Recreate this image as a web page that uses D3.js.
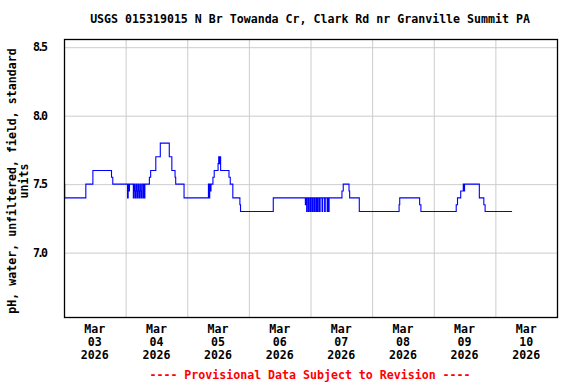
<!DOCTYPE html>
<html>
<head>
<meta charset="utf-8">
<script src="https://cdn.jsdelivr.net/npm/d3@7"></script>
<style>
  body { margin: 0; background: #fff; }
  text { font-family: "DejaVu Sans Mono", monospace; font-weight: bold; font-size: 11.6px; }
</style>
</head>
<body>
<div id="viz"></div>
<script>
// readings (15-min data, only the change points kept), Mar 2026
var times = [
  '03 00:00','03 00:15','03 08:30','03 11:15','03 18:30','03 19:00',
  '04 00:45','04 01:00','04 01:15','04 01:30','04 03:00','04 03:15','04 03:30','04 03:45',
  '04 04:00','04 04:15','04 04:30','04 04:45','04 05:00','04 05:15','04 05:30','04 05:45',
  '04 06:00','04 06:15','04 06:45','04 07:00','04 07:15','04 07:30',
  '04 09:15','04 09:45','04 11:45','04 13:30','04 17:00','04 18:00','04 19:15','04 19:30','04 22:45',
  '05 08:15','05 08:30','05 08:45','05 09:00','05 09:15','05 10:00','05 10:30','05 12:00',
  '05 12:15','05 12:30','05 12:45','05 13:00','05 16:15','05 16:45','05 17:45','05 20:30','05 20:45',
  '06 09:30',
  '06 22:00','06 22:15','06 22:30','06 22:45','06 23:15','06 23:30',
  '07 00:00','07 00:15','07 00:45','07 01:00','07 01:30','07 01:45','07 02:15','07 02:30',
  '07 02:45','07 03:00','07 03:30','07 03:45','07 04:30','07 04:45','07 05:30','07 05:45',
  '07 06:30','07 06:45','07 07:00','07 07:15',
  '07 12:15','07 12:45','07 15:00','07 15:15','07 19:00',
  '08 10:30','08 10:45','08 18:30','08 19:00',
  '09 08:45','09 09:15','09 10:30','09 11:30','09 11:45','09 12:00','09 17:45','09 19:30','09 20:00',
  '10 06:30'
];
var phValues = [
  7.5,7.4,7.5,7.6,7.55,7.5,
  7.4,7.5,7.45,7.5,7.4,7.5,7.45,7.4,
  7.5,7.45,7.4,7.5,7.45,7.4,7.5,7.45,
  7.4,7.5,7.4,7.5,7.4,7.5,
  7.55,7.6,7.7,7.8,7.7,7.6,7.55,7.5,7.4,
  7.5,7.4,7.5,7.45,7.5,7.55,7.6,7.65,
  7.7,7.65,7.7,7.6,7.55,7.5,7.4,7.35,7.3,
  7.4,
  7.35,7.4,7.3,7.4,7.3,7.4,
  7.3,7.4,7.3,7.4,7.3,7.4,7.3,7.4,
  7.3,7.4,7.3,7.4,7.3,7.4,7.3,7.4,
  7.3,7.4,7.3,7.4,
  7.45,7.5,7.45,7.4,7.3,
  7.35,7.4,7.35,7.3,
  7.35,7.4,7.45,7.5,7.45,7.5,7.4,7.35,7.3,
  7.3
];
var yTicks = [7.0, 7.5, 8.0, 8.5];
var dayLabels = ['03','04','05','06','07','08','09','10'];
var monthLabel = 'Mar', yearLabel = '2026';
var titleText = 'USGS 015319015 N Br Towanda Cr, Clark Rd nr Granville Summit PA';
var yLabelLines = ['pH, water, unfiltered, field, standard', 'units'];
var footText = '---- Provisional Data Subject to Revision ----';

var W = 576, H = 384,
    margin = { top: 39, right: 19, bottom: 67, left: 64 },
    width = W - margin.left - margin.right,
    height = H - margin.top - margin.bottom;

var parse = d3.timeParse('%Y-%m-%d %H:%M');
var data = times.map(function(t, i) {
  return { date: parse('2026-03-' + t), value: phValues[i] };
});

var xScale = d3.scaleTime()
  .domain([parse('2026-03-03 00:00'), parse('2026-03-11 00:00')])
  .range([0, width]);

var yScale = d3.scaleLinear()
  .domain([6.53, 8.56])
  .range([height, 0]);

var svg = d3.select('#viz').append('svg')
  .attr('width', W)
  .attr('height', H);

var chart = svg.append('g')
  .attr('transform', 'translate(' + margin.left + ',' + margin.top + ')');

// grid
var dayGrid = d3.range(1, 8).map(function(d) { return d3.timeDay.offset(xScale.domain()[0], d); });
chart.append('g')
  .attr('transform', 'translate(0,' + height + ')')
  .call(d3.axisBottom(xScale).tickValues(dayGrid).tickSize(-height).tickFormat(''))
  .call(function(g) {
    g.select('.domain').remove();
    g.selectAll('line').attr('stroke', '#cccccc');
  });
chart.append('g')
  .call(d3.axisLeft(yScale).tickValues(yTicks).tickSize(-width).tickFormat(''))
  .call(function(g) {
    g.select('.domain').remove();
    g.selectAll('line').attr('stroke', '#cccccc');
  });

// y tick labels (the period is narrow in the original font)
chart.append('g')
  .attr('transform', 'translate(-13,0)')
  .call(d3.axisLeft(yScale).tickValues(yTicks).tickSize(0).tickFormat(d3.format('.1f')))
  .call(function(g) {
    g.select('.domain').remove();
    g.selectAll('text').attr('fill', '#000')
      .attr('font-size', 11.6)
      .attr('font-family', '"DejaVu Sans Mono", monospace')
      .attr('textLength', 15)
      .attr('lengthAdjust', 'spacing');
  });

// x labels, centred on noon of each day
var noon = dayLabels.map(function(d) { return parse('2026-03-' + d + ' 12:00'); });
var xl = chart.append('g').selectAll('text').data(noon)
  .enter().append('text')
    .attr('text-anchor', 'middle')
    .attr('x', function(d) { return xScale(d); })
    .attr('y', height + 16);
xl.append('tspan').attr('x', function(d) { return xScale(d); }).text(monthLabel);
xl.append('tspan').attr('x', function(d) { return xScale(d); }).attr('dy', 13)
  .text(function(d, i) { return dayLabels[i]; });
xl.append('tspan').attr('x', function(d) { return xScale(d); }).attr('dy', 13).text(yearLabel);

// data line
var line = d3.line()
  .x(function(d) { return xScale(d.date); })
  .y(function(d) { return yScale(d.value); })
  .curve(d3.curveStepAfter);

chart.append('path')
  .datum(data)
  .attr('fill', 'none')
  .attr('stroke', '#0000ff')
  .attr('stroke-width', 1.1)
  .attr('d', line);

// frame
chart.append('rect')
  .attr('x', 0.5).attr('y', 0.5)
  .attr('width', width).attr('height', height)
  .attr('fill', 'none')
  .attr('stroke', '#000')
  .attr('stroke-width', 1.3);

// title
svg.append('text')
  .attr('x', 310).attr('y', 23)
  .attr('text-anchor', 'middle')
  .text(titleText);

// y label
var yl = svg.append('text')
  .attr('transform', 'translate(16,181) rotate(-90)')
  .attr('text-anchor', 'middle');
yl.append('tspan').attr('x', 0).text(yLabelLines[0]);
yl.append('tspan').attr('x', 0).attr('dy', 12).text(yLabelLines[1]);

// footer
svg.append('text')
  .attr('x', 310).attr('y', 379)
  .attr('text-anchor', 'middle')
  .attr('fill', '#ff0000')
  .text(footText);
</script>
</body>
</html>
